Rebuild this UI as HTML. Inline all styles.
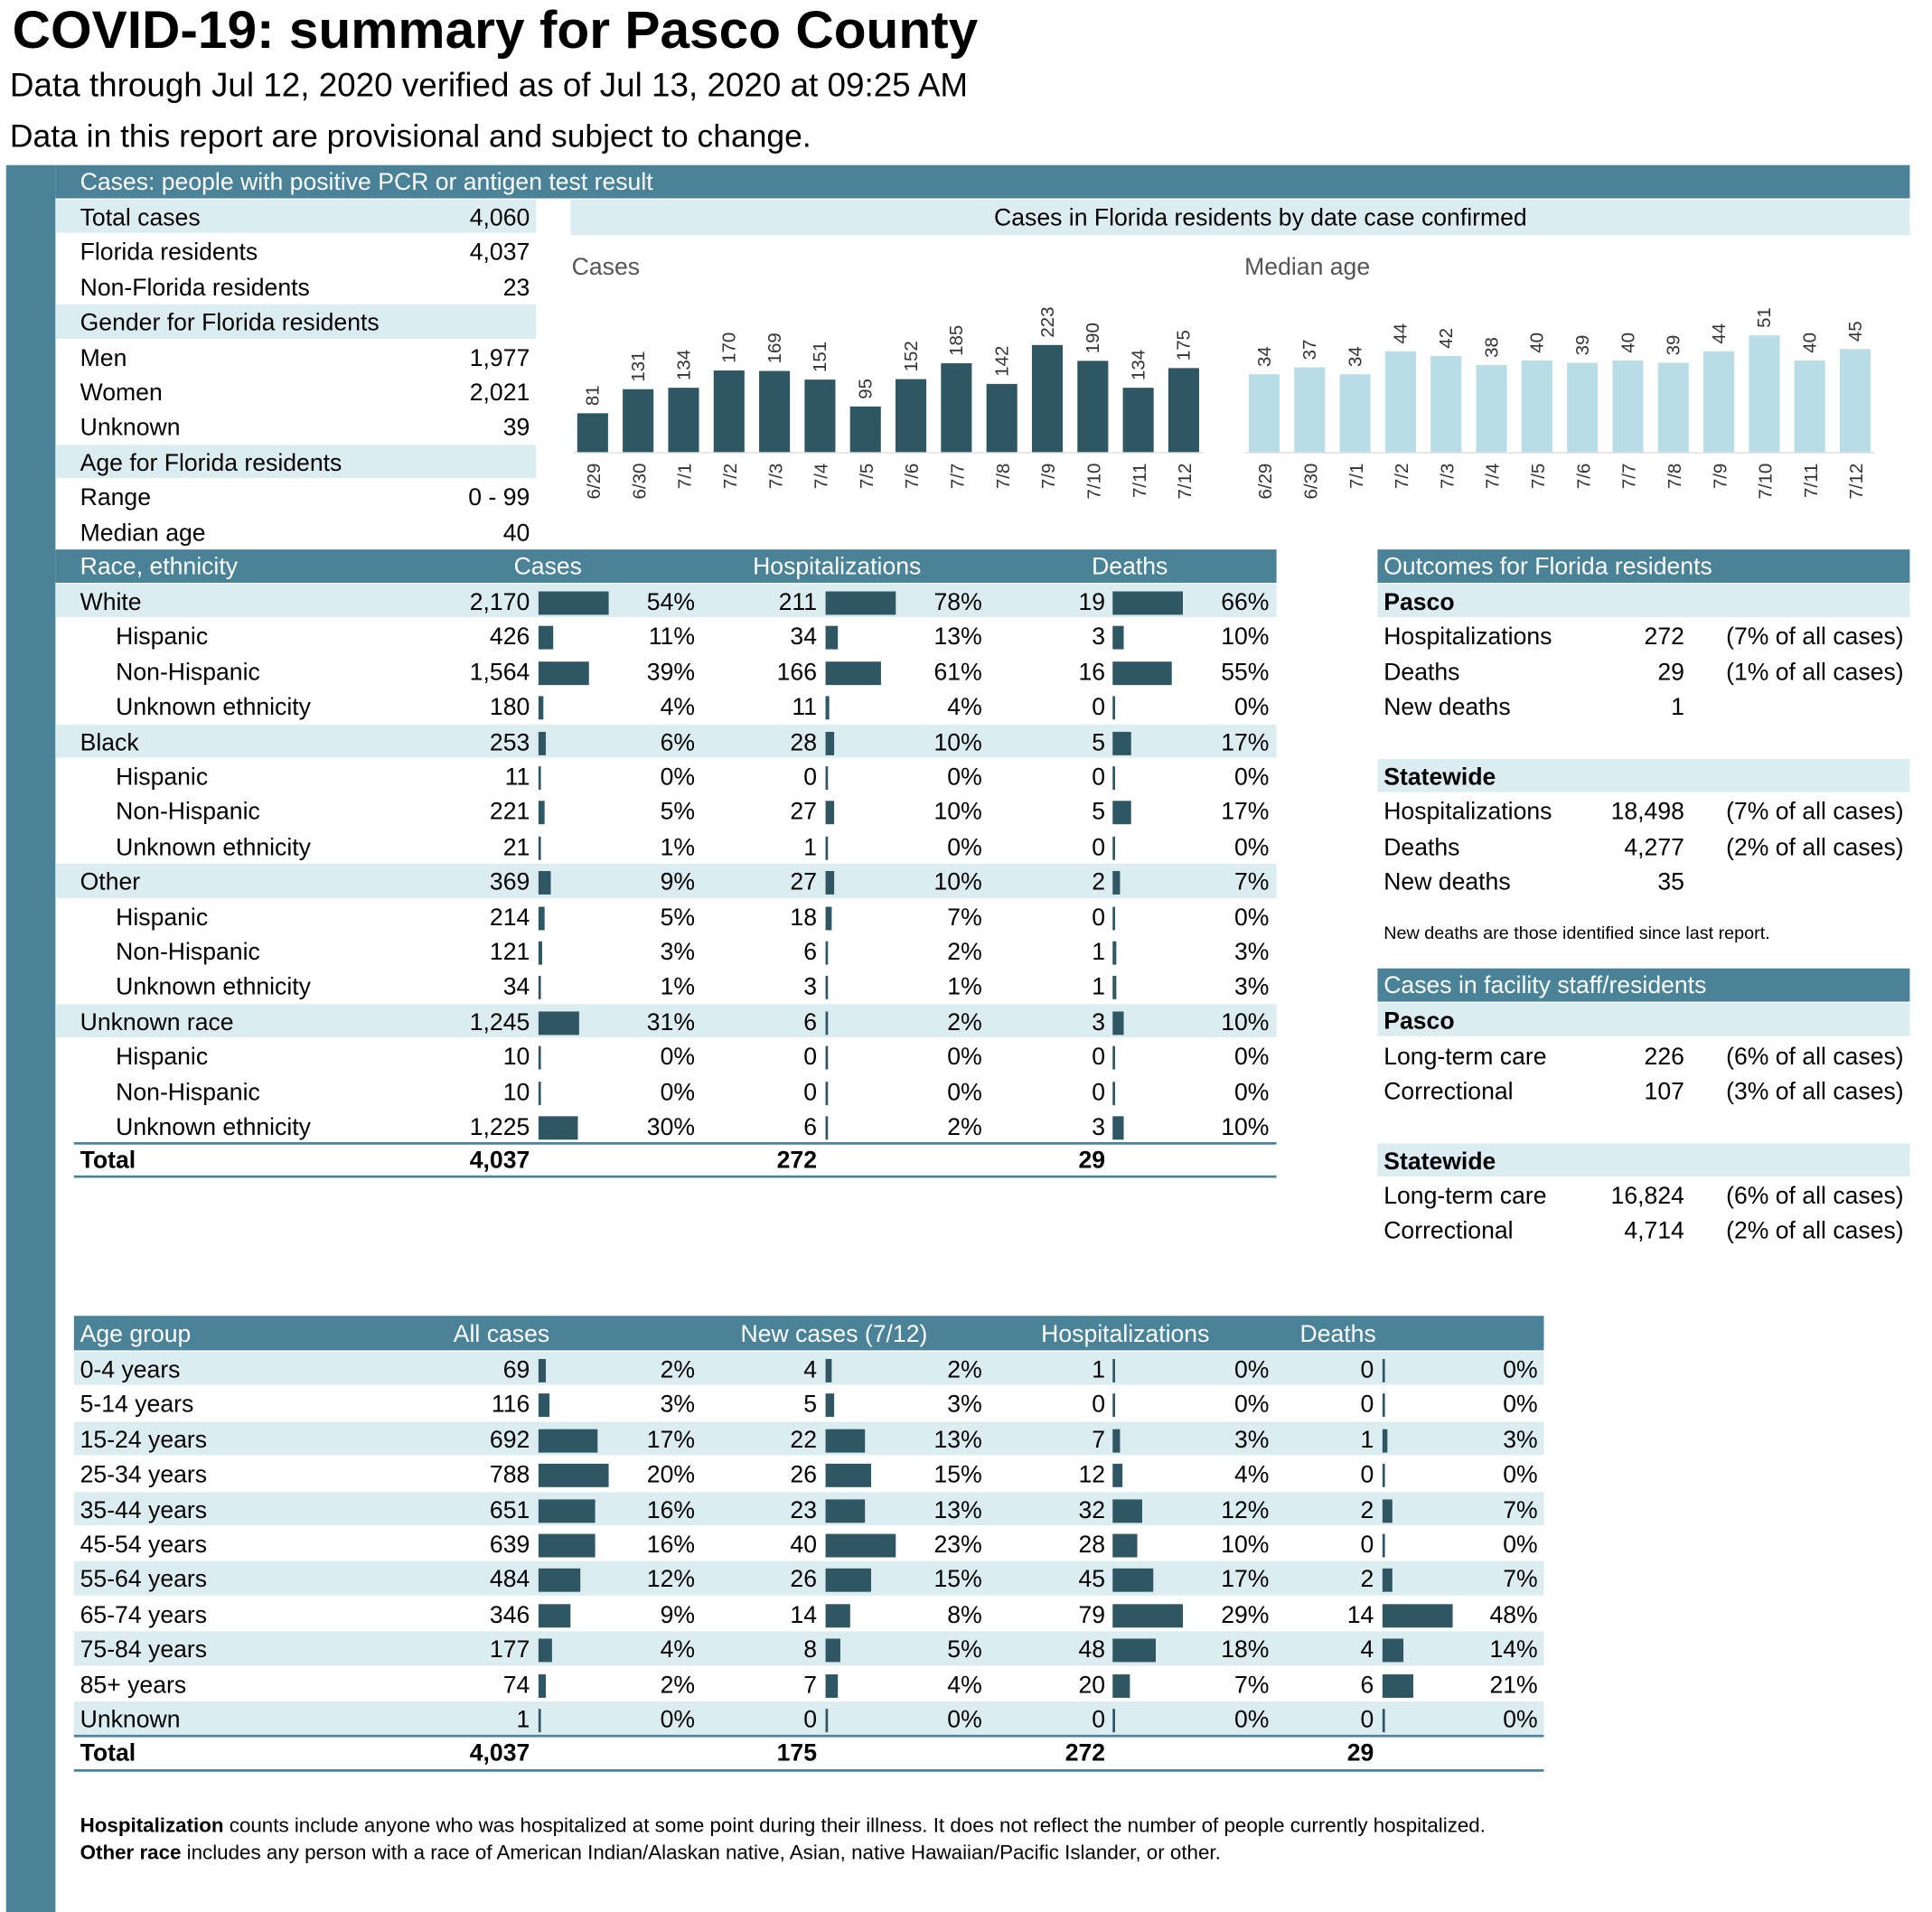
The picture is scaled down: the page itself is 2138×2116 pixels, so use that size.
<!DOCTYPE html>
<html><head><meta charset="utf-8">
<style>
html,body{margin:0;padding:0;background:#fff;}
body{width:2138px;height:2116px;overflow:hidden;}
#wrap{position:absolute;left:0;top:0;width:1568px;height:1552px;transform:scale(1.36352);transform-origin:0 0;font-family:"Liberation Sans",sans-serif;color:#000;}
.a{position:absolute;white-space:nowrap;}
.t{position:absolute;white-space:nowrap;font-size:19.5px;line-height:30px;}
.box{position:absolute;}
</style></head><body>
<div id="wrap">
<div class="a" style="left:10px;top:1px;font-size:43px;font-weight:bold;">COVID-19: summary for Pasco County</div>
<div class="a" style="left:8px;top:54px;font-size:27px;">Data through Jul 12, 2020 verified as of Jul 13, 2020 at 09:25 AM</div>
<div class="a" style="left:8px;top:95px;font-size:26px;">Data in this report are provisional and subject to change.</div>
<div class="box" style="left:5px;top:134px;width:40px;height:1418px;background:#4a8397;"></div>
<div class="box" style="left:45px;top:134px;width:1505px;height:27px;background:#4a8397;"></div>
<div class="t" style="left:65px;top:135px;color:#fff;line-height:27px;">Cases: people with positive PCR or antigen test result</div>
<div class="box" style="left:463px;top:162px;width:1087px;height:29px;background:#dcedf2;"></div>
<div class="t" style="left:463px;width:1120px;text-align:center;top:162px;">Cases in Florida residents by date case confirmed</div>
<div class="t" style="left:464px;top:202px;color:#555;">Cases</div>
<div class="t" style="left:1010px;top:202px;color:#555;">Median age</div>
<svg id="svg" style="position:absolute;left:0;top:0" width="1568" height="1552" viewBox="0 0 1568 1552"></svg>
<div class="t" style="left:65px;top:1471px;font-size:16.4px;line-height:22px;"><b>Hospitalization</b> counts include anyone who was hospitalized at some point during their illness. It does not reflect the number of people currently hospitalized.</div>
<div class="t" style="left:65px;top:1493px;font-size:16.4px;line-height:22px;"><b>Other race</b> includes any person with a race of American Indian/Alaskan native, Asian, native Hawaiian/Pacific Islander, or other.</div>
</div>
<script>
const dates=["6/29","6/30","7/1","7/2","7/3","7/4","7/5","7/6","7/7","7/8","7/9","7/10","7/11","7/12"];
const caseCounts=[81,131,134,170,169,151,95,152,185,142,223,190,134,175];
const medianAges=[34,37,34,44,42,38,40,39,40,39,44,51,40,45];
const summaryLabels=["Total cases","Florida residents","Non-Florida residents","Gender for Florida residents","Men","Women","Unknown","Age for Florida residents","Range","Median age"];
const summaryValues=["4,060","4,037","23","","1,977","2,021","39","","0 - 99","40"];
const raceNames=["White","Hispanic","Non-Hispanic","Unknown ethnicity","Black","Hispanic","Non-Hispanic","Unknown ethnicity","Other","Hispanic","Non-Hispanic","Unknown ethnicity","Unknown race","Hispanic","Non-Hispanic","Unknown ethnicity"];
const raceCases=["2,170","426","1,564","180","253","11","221","21","369","214","121","34","1,245","10","10","1,225"];
const raceCasePct=[54,11,39,4,6,0,5,1,9,5,3,1,31,0,0,30];
const raceHosp=["211","34","166","11","28","0","27","1","27","18","6","3","6","0","0","6"];
const raceHospPct=[78,13,61,4,10,0,10,0,10,7,2,1,2,0,0,2];
const raceDeaths=["19","3","16","0","5","0","5","0","2","0","1","1","3","0","0","3"];
const raceDeathPct=[66,10,55,0,17,0,17,0,7,0,3,3,10,0,0,10];
const ageGroups=["0-4 years","5-14 years","15-24 years","25-34 years","35-44 years","45-54 years","55-64 years","65-74 years","75-84 years","85+ years","Unknown"];
const ageCases=["69","116","692","788","651","639","484","346","177","74","1"];
const ageCasePct=[2,3,17,20,16,16,12,9,4,2,0];
const ageNew=["4","5","22","26","23","40","26","14","8","7","0"];
const ageNewPct=[2,3,13,15,13,23,15,8,5,4,0];
const ageHosp=["1","0","7","12","32","28","45","79","48","20","0"];
const ageHospPct=[0,0,3,4,12,10,17,29,18,7,0];
const ageDeaths=["0","0","1","0","2","0","2","14","4","6","0"];
const ageDeathPct=[0,0,3,0,7,0,7,48,14,21,0];

const W=document.getElementById('wrap');
const S=document.getElementById('svg');
const NS="http://www.w3.org/2000/svg";
const TEAL="#4a8397",SHADE="#dcedf2",DARK="#2f5663",LIGHT="#b9dde6";
function box(x,y,w,h,c,name){const d=document.createElement('div');d.className='box';d.style.cssText=`left:${x}px;top:${y}px;width:${w}px;height:${h}px;background:${c}`;


W.appendChild(d);return d;}
function txt(x,y,s,align,name,extra){const d=document.createElement('div');d.className='t';d.textContent=s;
if(align==='r')d.style.right=(1568-x)+'px';else d.style.left=x+'px';
d.style.top=y+'px';if(extra)d.style.cssText+=extra;


W.appendChild(d);return d;}
function sv(tag,attrs,name){const e=document.createElementNS(NS,tag);for(const k in attrs)e.setAttribute(k,attrs[k]);


S.appendChild(e);return e;}

const RH=28.4;
summaryLabels.forEach((l,i)=>{const y=162+i*RH;const shaded=[0,3,7].includes(i);
if(shaded)box(45,y,390,RH-1,SHADE,'summary-row-shade');
txt(65,y,l,'l','summary-label');if(summaryValues[i])txt(430,y,summaryValues[i],'r','summary-value');});

const base=367;
function yCases(v){return base-v*0.39;}
function yAge(v){return base-v*1.86;}
function xCases(i){return 481+i*36.9;}
function xAge(i){return 1026+i*36.9;}
function drawChart(vals,xf,yf,color,nm){
vals.forEach((v,i)=>{const x=xf(i),y=yf(v);
sv('rect',{x:x-12.5,y:y,width:25,height:base-y,fill:color},nm+'-bar');
const t=sv('text',{x:x+5,y:y-6,transform:`rotate(-90 ${x+5} ${y-6})`,'font-size':15,'font-family':'Liberation Sans, sans-serif',fill:'#333'},nm+'-value-label');t.textContent=v;
const d=sv('text',{x:x+6,y:376,transform:`rotate(-90 ${x+6} 376)`,'text-anchor':'end','font-size':15,'font-family':'Liberation Sans, sans-serif',fill:'#333'},nm+'-date-label');d.textContent=dates[i];});
sv('line',{x1:xf(0)-16,x2:xf(vals.length-1)+16,y1:base+0.5,y2:base+0.5,stroke:'#ddd','stroke-width':1},nm+'-baseline');}
drawChart(caseCounts,xCases,yCases,DARK,'cases');
drawChart(medianAges,xAge,yAge,LIGHT,'median-age');

function bar(x,y,pct,max,name){const w=pct/max*57;box(x,y+6,Math.max(w,1.5),19,DARK,name);}

box(45,446,991,27,TEAL,'race-header-bar');
txt(65,447,'Race, ethnicity','l','race-header-label','color:#fff;line-height:27px');
txt(417,447,'Cases','l','race-header-cases','color:#fff;line-height:27px');
txt(611,447,'Hospitalizations','l','race-header-hosp','color:#fff;line-height:27px');
txt(886,447,'Deaths','l','race-header-deaths','color:#fff;line-height:27px');
const cMax=Math.max(...raceCasePct),hMax=Math.max(...raceHospPct),dMax=Math.max(...raceDeathPct);
raceNames.forEach((n,i)=>{const y=474+i*RH;const top=i%4===0;
if(top)box(45,y,991,RH-1,SHADE,'race-row-shade');
txt(top?65:94,y,n,'l','race-name');
txt(430,y,raceCases[i],'r','race-cases');bar(437,y,raceCasePct[i],cMax,'race-cases-bar');txt(564,y,raceCasePct[i]+'%','r','race-cases-pct');
txt(663,y,raceHosp[i],'r','race-hosp');bar(670,y,raceHospPct[i],hMax,'race-hosp-bar');txt(797,y,raceHospPct[i]+'%','r','race-hosp-pct');
txt(897,y,raceDeaths[i],'r','race-deaths');bar(903,y,raceDeathPct[i],dMax,'race-deaths-bar');txt(1030,y,raceDeathPct[i]+'%','r','race-deaths-pct');});
box(60,927,976,2,TEAL,'race-total-top-line');
txt(65,927,'Total','l','race-total-label','font-weight:bold');
txt(430,927,'4,037','r','race-total-cases','font-weight:bold');
txt(663,927,'272','r','race-total-hosp','font-weight:bold');
txt(897,927,'29','r','race-total-deaths','font-weight:bold');
box(60,954,976,2,TEAL,'race-total-bottom-line');

function panelHeader(y,s,name){box(1118,y,432,27,TEAL,name);txt(1123,y+1,s,'l',name+'-text','color:#fff;line-height:27px');}
function shadeRow(y,s,name){box(1118,y,432,RH-1,SHADE,name);txt(1123,y,s,'l',name+'-text','font-weight:bold');}
function dataRow(y,l,v,p,name){txt(1123,y,l,'l',name+'-label');txt(1367,y,v,'r',name+'-value');if(p)txt(1545,y,p,'r',name+'-pct');}
panelHeader(446,'Outcomes for Florida residents','outcomes-header');
shadeRow(474,'Pasco','outcomes-pasco');
dataRow(502,'Hospitalizations','272','(7% of all cases)','pasco-hosp');
dataRow(531,'Deaths','29','(1% of all cases)','pasco-deaths');
dataRow(559,'New deaths','1','','pasco-new-deaths');
shadeRow(616,'Statewide','outcomes-statewide');
dataRow(644,'Hospitalizations','18,498','(7% of all cases)','state-hosp');
dataRow(673,'Deaths','4,277','(2% of all cases)','state-deaths');
dataRow(701,'New deaths','35','','state-new-deaths');
txt(1123,747,'New deaths are those identified since last report.','l','new-deaths-note','font-size:14.5px;line-height:22px');
panelHeader(786,'Cases in facility staff/residents','facility-header');
shadeRow(814,'Pasco','facility-pasco');
dataRow(843,'Long-term care','226','(6% of all cases)','pasco-ltc');
dataRow(871,'Correctional','107','(3% of all cases)','pasco-corr');
shadeRow(928,'Statewide','facility-statewide');
dataRow(956,'Long-term care','16,824','(6% of all cases)','state-ltc');
dataRow(984,'Correctional','4,714','(2% of all cases)','state-corr');

box(60,1068,1193,28,TEAL,'age-header-bar');
[['Age group',65],['All cases',368],['New cases (7/12)',601],['Hospitalizations',845],['Deaths',1055]].forEach(h=>txt(h[1],1068,h[0],'l','age-header-label','color:#fff'));
const aM=Math.max(...ageCasePct),nM=Math.max(...ageNewPct),hM=Math.max(...ageHospPct),dM=Math.max(...ageDeathPct);
ageGroups.forEach((n,i)=>{const y=1097+i*RH;
if(i%2===0)box(60,y,1193,RH-1,SHADE,'age-row-shade');
txt(65,y,n,'l','age-group-name');
txt(430,y,ageCases[i],'r','age-cases');bar(437,y,ageCasePct[i],aM,'age-cases-bar');txt(564,y,ageCasePct[i]+'%','r','age-cases-pct');
txt(663,y,ageNew[i],'r','age-new');bar(670,y,ageNewPct[i],nM,'age-new-bar');txt(797,y,ageNewPct[i]+'%','r','age-new-pct');
txt(897,y,ageHosp[i],'r','age-hosp');bar(903,y,ageHospPct[i],hM,'age-hosp-bar');txt(1030,y,ageHospPct[i]+'%','r','age-hosp-pct');
txt(1115,y,ageDeaths[i],'r','age-deaths');bar(1122,y,ageDeathPct[i],dM,'age-deaths-bar');txt(1248,y,ageDeathPct[i]+'%','r','age-deaths-pct');});
box(60,1408,1193,2,TEAL,'age-total-top-line');
txt(65,1408,'Total','l','age-total-label','font-weight:bold');
txt(430,1408,'4,037','r','age-total-cases','font-weight:bold');
txt(663,1408,'175','r','age-total-new','font-weight:bold');
txt(897,1408,'272','r','age-total-hosp','font-weight:bold');
txt(1115,1408,'29','r','age-total-deaths','font-weight:bold');
box(60,1436,1193,2,TEAL,'age-total-bottom-line');
</script>
</body></html>
